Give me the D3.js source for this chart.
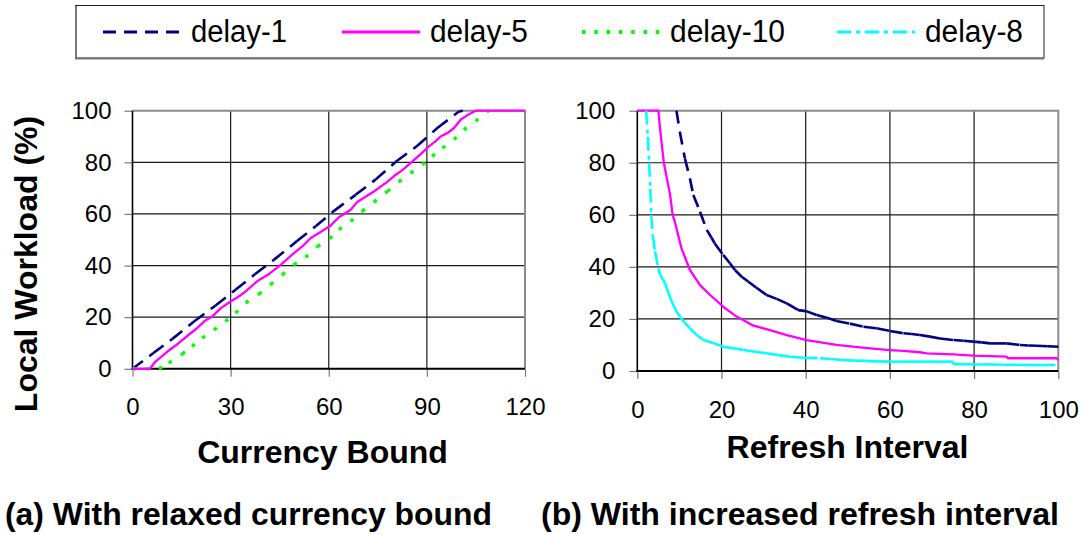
<!DOCTYPE html>
<html>
<head>
<meta charset="utf-8">
<script src="https://cdn.jsdelivr.net/npm/d3@7"></script>
<style>
  body { margin: 0; background: #fff; }
  svg { display: block; }
  text { font-family: "Liberation Sans", Arial, Helvetica, sans-serif; fill: #000; }
</style>
</head>
<body>
<svg id="chart" width="1086" height="535"></svg>
<script>
// ---- series labels ----
const seriesNames = ["delay-1", "delay-5", "delay-10", "delay-8"];

// ---- panel (a): local workload (%) against currency bound, [bound, workload] ----
const boundDelay1 = [[0,0],[6.3,6],[12.1,11.5],[18.8,18.3],[25.4,24.5],[31.5,30.6],[37.6,36.8],
  [43.2,42.2],[50.2,49.4],[56,55.2],[61.4,61],[68.2,67.4],[74.3,73.3],[80.7,80.4],[86.9,86.2],
  [93.2,93.3],[99.8,99.7],[101,100]];
const boundDelay5 = [[0,0],[5.3,0],[7,2.8],[10.5,6.5],[14.2,10],[17,13],[19.8,15.8],[22,18.5],
  [24.4,20.3],[27,23.5],[30,26.1],[32.5,28],[34.6,30],[38.1,33.9],[41.5,36.5],[45.3,40.3],
  [48.8,44.2],[51.9,47.4],[54.4,50.6],[57.5,53],[60.3,55.2],[63.1,58.7],[66.7,61.6],[68.7,64.6],
  [71,66.5],[73.8,68.7],[77.9,72.4],[80.5,75.2],[82.5,77],[85,79.7],[88.1,83.2],[90.6,86.2],
  [92.5,88],[94.2,90],[96.5,91.5],[98.3,93.3],[100.3,96.5],[102.3,98.2],[104.9,100],[120,100]];
const boundDelay10 = [[0,0],[4.3,0],[8.1,0],[11.1,2.2],[15.2,5.7],[18.2,8.7],[21.3,11.9],[24.9,15.1],
  [28.4,18.3],[31.5,21.6],[34.6,25.5],[38.6,28.9],[42.2,32.6],[45.8,36.4],[49.3,40.3],[52.9,43.2],
  [56.5,47.4],[60.3,50.4],[63.1,53.9],[66.7,57.1],[70.2,61],[73.8,64.6],[77.9,68.7],[81.4,72.4],
  [85,75.8],[88.6,79.1],[91.6,82.3],[94.7,85.5],[98.3,88.8],[101.3,92.6],[104.9,95.9],[108.5,99.7],
  [109,100]];

// ---- panel (b): local workload (%) against refresh interval, [interval, workload] ----
const refreshDelay1 = [[9.3,100],[10.1,91.9],[11.3,81.7],[12.5,74],[13.3,67.6],[14.9,61.2],[16.5,54.2],
  [17.7,51],[18.4,49],[20.4,44.6],[22,41.4],[23.2,38.8],[24.8,36.2],[26.4,34.3],[28.3,32],[30.7,29.2],
  [33.1,27.7],[35.5,26],[38.2,23.4],[40.1,23],[42.6,21.5],[45,20.5],[47.3,19.2],[50.5,18.2],[53.7,17],
  [56.8,16.4],[60,15.4],[63.2,14.5],[65.2,14.2],[67.1,13.8],[69.5,13.2],[71.9,12.5],[75.1,11.9],
  [77.5,11.6],[79.8,11.3],[81.8,11],[83.8,10.6],[85.7,10.6],[87.7,10.6],[90.9,10],[92.9,9.8],
  [94.9,9.7],[97.5,9.5],[100,9.3]];
const refreshDelay5 = [[0,100],[5,100],[5.4,93.2],[6.3,80],[7.8,67.6],[8.4,60],[8.9,57.4],[10.5,47.1],
  [12.5,38.8],[14.9,33],[17.3,29.2],[20.4,24.7],[23.6,20.9],[27.6,17.4],[31.5,15.7],[35.5,13.8],
  [40.2,11.9],[47.3,10],[52.9,9.1],[59.2,8.1],[63.2,7.7],[67.1,7.2],[68.7,6.8],[75.1,6.4],[79.8,5.9],
  [87.7,5.5],[88,4.9],[99.6,4.9],[100,4.2]];
const refreshDelay8 = [[2.1,100],[2.5,90],[2.8,80],[3.1,70],[3.3,60],[3.7,52],[4.2,46],[5,39.4],
  [5.4,37],[6.6,33.7],[7.4,30],[8.2,26.6],[9.1,23.5],[10.1,20.9],[11.3,18.5],[12.5,16.4],[14,14],
  [15.7,11.9],[18,10.8],[20.4,9.3],[23,8.7],[25.2,8.1],[28,7.4],[30.7,6.8],[33.5,6.1],[36.3,5.5],
  [39.5,5.1],[43.4,4.9],[46,4.6],[48.7,4.2],[51.3,4],[54,3.9],[57,3.7],[60,3.6],[63,3.6],[66,3.6],
  [69,3.6],[72,3.6],[75,3.6],[75.1,2.6],[78,2.6],[81,2.5],[84,2.5],[87,2.4],[90,2.4],[93,2.3],
  [96,2.3],[100,2.3]];

// ---- ticks ----
const boundTicks = [0, 30, 60, 90, 120];
const refreshTicks = [0, 20, 40, 60, 80, 100];
const workloadTicks = [0, 20, 40, 60, 80, 100];

// ---- line styles per series ----
const styles = {
  "delay-1":  { color: "#000080", width: 2.6, dash: "13,8" },
  "delay-5":  { color: "#ff00ff", width: 2.3, dash: null },
  "delay-10": { color: "#00ff00", width: 3.4, dash: "3.5,11", legendDash: "3.5,8.8" },
  "delay-8":  { color: "#00ffff", width: 2.6, dash: "14,5,4,5" }
};

const svg = d3.select("#chart");

// Excel-style line: the dash pattern restarts at every data point
function drawSeries(g, pts, x, y, st) {
  if (!st.dash) {
    g.append("path")
      .datum(pts)
      .attr("fill", "none")
      .attr("stroke", st.color)
      .attr("stroke-width", st.width)
      .attr("stroke-linejoin", "round")
      .attr("d", d3.line().x(d => x(d[0])).y(d => y(d[1])));
  } else {
    g.selectAll(null)
      .data(d3.pairs(pts))
      .join("line")
      .attr("x1", d => x(d[0][0])).attr("y1", d => y(d[0][1]))
      .attr("x2", d => x(d[1][0])).attr("y2", d => y(d[1][1]))
      .attr("stroke", st.color)
      .attr("stroke-width", st.width)
      .attr("stroke-dasharray", st.dash);
  }
}

function panel(opts) {
  const { x, y, xTicks, xPad, yPad, series } = opts;
  const [x0, x1] = x.range();
  const [y0, y1] = y.range();
  const g = svg.append("g");

  // horizontal gridlines
  g.selectAll(null).data(workloadTicks.slice(1, -1)).join("line")
    .attr("x1", x0).attr("x2", x1)
    .attr("y1", d => y(d)).attr("y2", d => y(d))
    .attr("stroke", "#1a1a1a").attr("stroke-width", 1.2);
  // vertical gridlines
  g.selectAll(null).data(xTicks.slice(1, -1)).join("line")
    .attr("x1", d => x(d)).attr("x2", d => x(d))
    .attr("y1", y0).attr("y2", y1)
    .attr("stroke", "#1a1a1a").attr("stroke-width", 1.2);
  // top and right frame
  g.append("path")
    .attr("d", `M${x0},${y1}H${x1}V${y0}`)
    .attr("fill", "none").attr("stroke", "#8c8c8c").attr("stroke-width", 2);

  // axes
  const ax = g.append("g").attr("transform", `translate(0,${y0})`)
    .call(d3.axisBottom(x).tickValues(xTicks).tickSize(8).tickSizeOuter(0).tickPadding(xPad));
  const ay = g.append("g").attr("transform", `translate(${x0},0)`)
    .call(d3.axisLeft(y).tickValues(workloadTicks).tickSize(8).tickSizeOuter(0).tickPadding(yPad));
  [ax, ay].forEach(a => {
    a.select(".domain").remove();
    a.selectAll(".tick line").attr("stroke", "#7a7a7a").attr("stroke-width", 1.2);
    a.selectAll(".tick text").style("font-size", "24px").attr("fill", "#000");
  });
  g.append("line").attr("x1", x0).attr("x2", x0).attr("y1", y1).attr("y2", y0)
    .attr("stroke", "#000").attr("stroke-width", 1.6);
  g.append("line").attr("x1", x0 - 1).attr("x2", x1).attr("y1", y0).attr("y2", y0)
    .attr("stroke", "#000").attr("stroke-width", 2);

  // data lines
  const lines = g.append("g");
  series.forEach(s => drawSeries(lines, s.data, x, y, styles[s.name]));
  return g;
}

// panel (a)
const xA = d3.scaleLinear().domain([0, 120]).range([132.5, 525]);
const yA = d3.scaleLinear().domain([0, 100]).range([368.8, 110.7]);
panel({
  x: xA, y: yA, xTicks: boundTicks, xPad: 21, yPad: 13,
  series: [
    { name: "delay-1", data: boundDelay1 },
    { name: "delay-10", data: boundDelay10 },
    { name: "delay-5", data: boundDelay5 }
  ]
});

// panel (b)
const xB = d3.scaleLinear().domain([0, 100]).range([637.3, 1058.3]);
const yB = d3.scaleLinear().domain([0, 100]).range([371, 110.7]);
panel({
  x: xB, y: yB, xTicks: refreshTicks, xPad: 22, yPad: 14,
  series: [
    { name: "delay-1", data: refreshDelay1 },
    { name: "delay-5", data: refreshDelay5 },
    { name: "delay-8", data: refreshDelay8 }
  ]
});

// axis titles
svg.append("text")
  .attr("transform", "translate(36.5,264) rotate(-90)")
  .attr("text-anchor", "middle")
  .style("font-size", "32px").style("font-weight", "bold")
  .text("Local Workload (%)");
svg.append("text")
  .attr("x", 322.5).attr("y", 462.5)
  .attr("text-anchor", "middle")
  .style("font-size", "32px").style("font-weight", "bold")
  .text("Currency Bound");
svg.append("text")
  .attr("x", 847.5).attr("y", 458)
  .attr("text-anchor", "middle")
  .style("font-size", "32px").style("font-weight", "bold")
  .text("Refresh Interval");

// panel captions
svg.append("text")
  .attr("x", 5).attr("y", 525)
  .style("font-size", "31px").style("font-weight", "bold")
  .attr("textLength", 487).attr("lengthAdjust", "spacingAndGlyphs")
  .text("(a) With relaxed currency bound");
svg.append("text")
  .attr("x", 541).attr("y", 525)
  .style("font-size", "31px").style("font-weight", "bold")
  .attr("textLength", 518).attr("lengthAdjust", "spacingAndGlyphs")
  .text("(b) With increased refresh interval");

// legend box with a soft shadow on the left and bottom edges
const legend = svg.append("g");
legend.append("rect")
  .attr("x", 75.5).attr("y", 5.5).attr("width", 968.5).attr("height", 52.5)
  .attr("fill", "#fff").attr("stroke", "#222").attr("stroke-width", 1);
legend.append("path")
  .attr("d", "M76,6V58.5H1044")
  .attr("fill", "none").attr("stroke", "#777").attr("stroke-width", 2);

// legend entries: line sample followed by the series name
const legendStart = { "delay-1": 103, "delay-5": 342, "delay-10": 582, "delay-8": 837 };
const legendTextW = { "delay-1": 96, "delay-5": 98, "delay-10": 115, "delay-8": 98 };
const item = legend.selectAll(".item").data(seriesNames).join("g")
  .attr("class", "item")
  .attr("transform", d => `translate(${legendStart[d]},0)`);
item.append("line")
  .attr("x1", 0).attr("x2", 78).attr("y1", 32).attr("y2", 32)
  .attr("stroke", d => styles[d].color)
  .attr("stroke-width", d => styles[d].width + 0.6)
  .attr("stroke-dasharray", d => styles[d].legendDash || styles[d].dash);
item.append("text")
  .attr("x", 88).attr("y", 42)
  .style("font-size", "31px")
  .attr("textLength", d => legendTextW[d]).attr("lengthAdjust", "spacingAndGlyphs")
  .text(d => d);
</script>
</body>
</html>
